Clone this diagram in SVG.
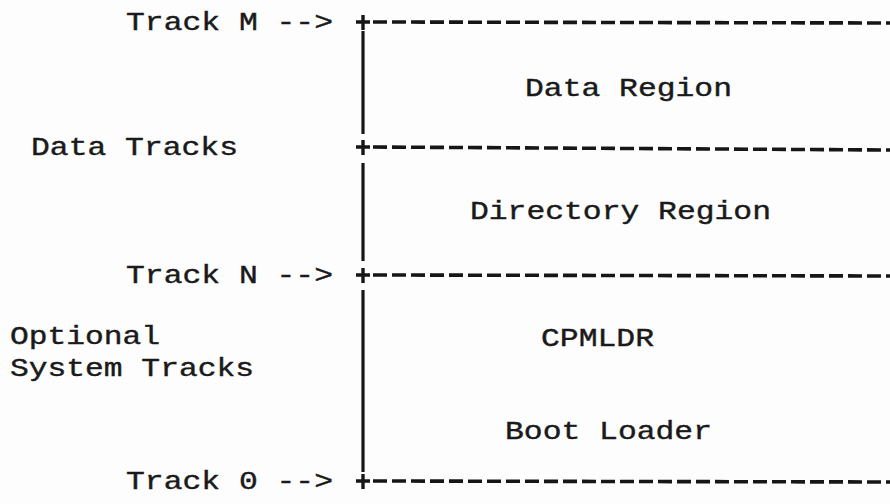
<svg xmlns="http://www.w3.org/2000/svg" width="890" height="504" viewBox="0 0 890 504">
  <style>
    text { font-family: "Liberation Mono", "DejaVu Sans Mono", monospace; font-size: 25px; fill: #1a1a1a; stroke: #1a1a1a; stroke-width: 0.4; }
    .rule { stroke: #161616; stroke-width: 3.6; stroke-dasharray: 14 5; fill: none; }
    .post { stroke: #161616; stroke-width: 3.2; fill: none; }
    .cross { stroke: #161616; stroke-width: 3.4; fill: none; }
  </style>
  <rect width="890" height="504" fill="#fdfdfd"/>

  <!-- track markers on the left (typewriter pitch 18.8px per column) -->
  <g id="track-m"><text x="126" y="30" textLength="207" lengthAdjust="spacingAndGlyphs">Track M --&gt;</text></g>
  <g id="data-tracks"><text x="31" y="155" textLength="207" lengthAdjust="spacingAndGlyphs">Data Tracks</text></g>
  <g id="track-n"><text x="126" y="283" textLength="207" lengthAdjust="spacingAndGlyphs">Track N --&gt;</text></g>
  <g id="system-tracks">
    <text x="10" y="344" textLength="150" lengthAdjust="spacingAndGlyphs">Optional</text>
    <text x="10" y="376" textLength="244" lengthAdjust="spacingAndGlyphs">System Tracks</text>
  </g>
  <g id="track-0"><text x="126" y="489" textLength="207" lengthAdjust="spacingAndGlyphs">Track 0 --&gt;</text></g>

  <!-- the vertical edge of the disk map -->
  <g id="edge">
    <path class="post" d="M363 31 V134 M363 163 V261 M363 290 V472"/>
  </g>

  <!-- boundary rules: a cross at the edge then a dashed line -->
  <g id="boundaries">
    <path class="cross" d="M356 22 H370 M363 15 V30"/>
    <path class="rule" d="M373 22 L890 23"/>
    <path class="cross" d="M356 147 H370 M363 140 V155"/>
    <path class="rule" d="M373 147 L890 150"/>
    <path class="cross" d="M356 275 H370 M363 268 V283"/>
    <path class="rule" d="M373 275 L890 276"/>
    <path class="cross" d="M356 481 H370 M363 474 V489"/>
    <path class="rule" d="M373 481 L890 482"/>
  </g>

  <!-- regions -->
  <g id="data-region"><text x="525" y="96" textLength="207" lengthAdjust="spacingAndGlyphs">Data Region</text></g>
  <g id="directory-region"><text x="470" y="219" textLength="301" lengthAdjust="spacingAndGlyphs">Directory Region</text></g>
  <g id="cpmldr"><text x="541" y="346" textLength="113" lengthAdjust="spacingAndGlyphs">CPMLDR</text></g>
  <g id="boot-loader"><text x="505" y="439" textLength="207" lengthAdjust="spacingAndGlyphs">Boot Loader</text></g>
</svg>
